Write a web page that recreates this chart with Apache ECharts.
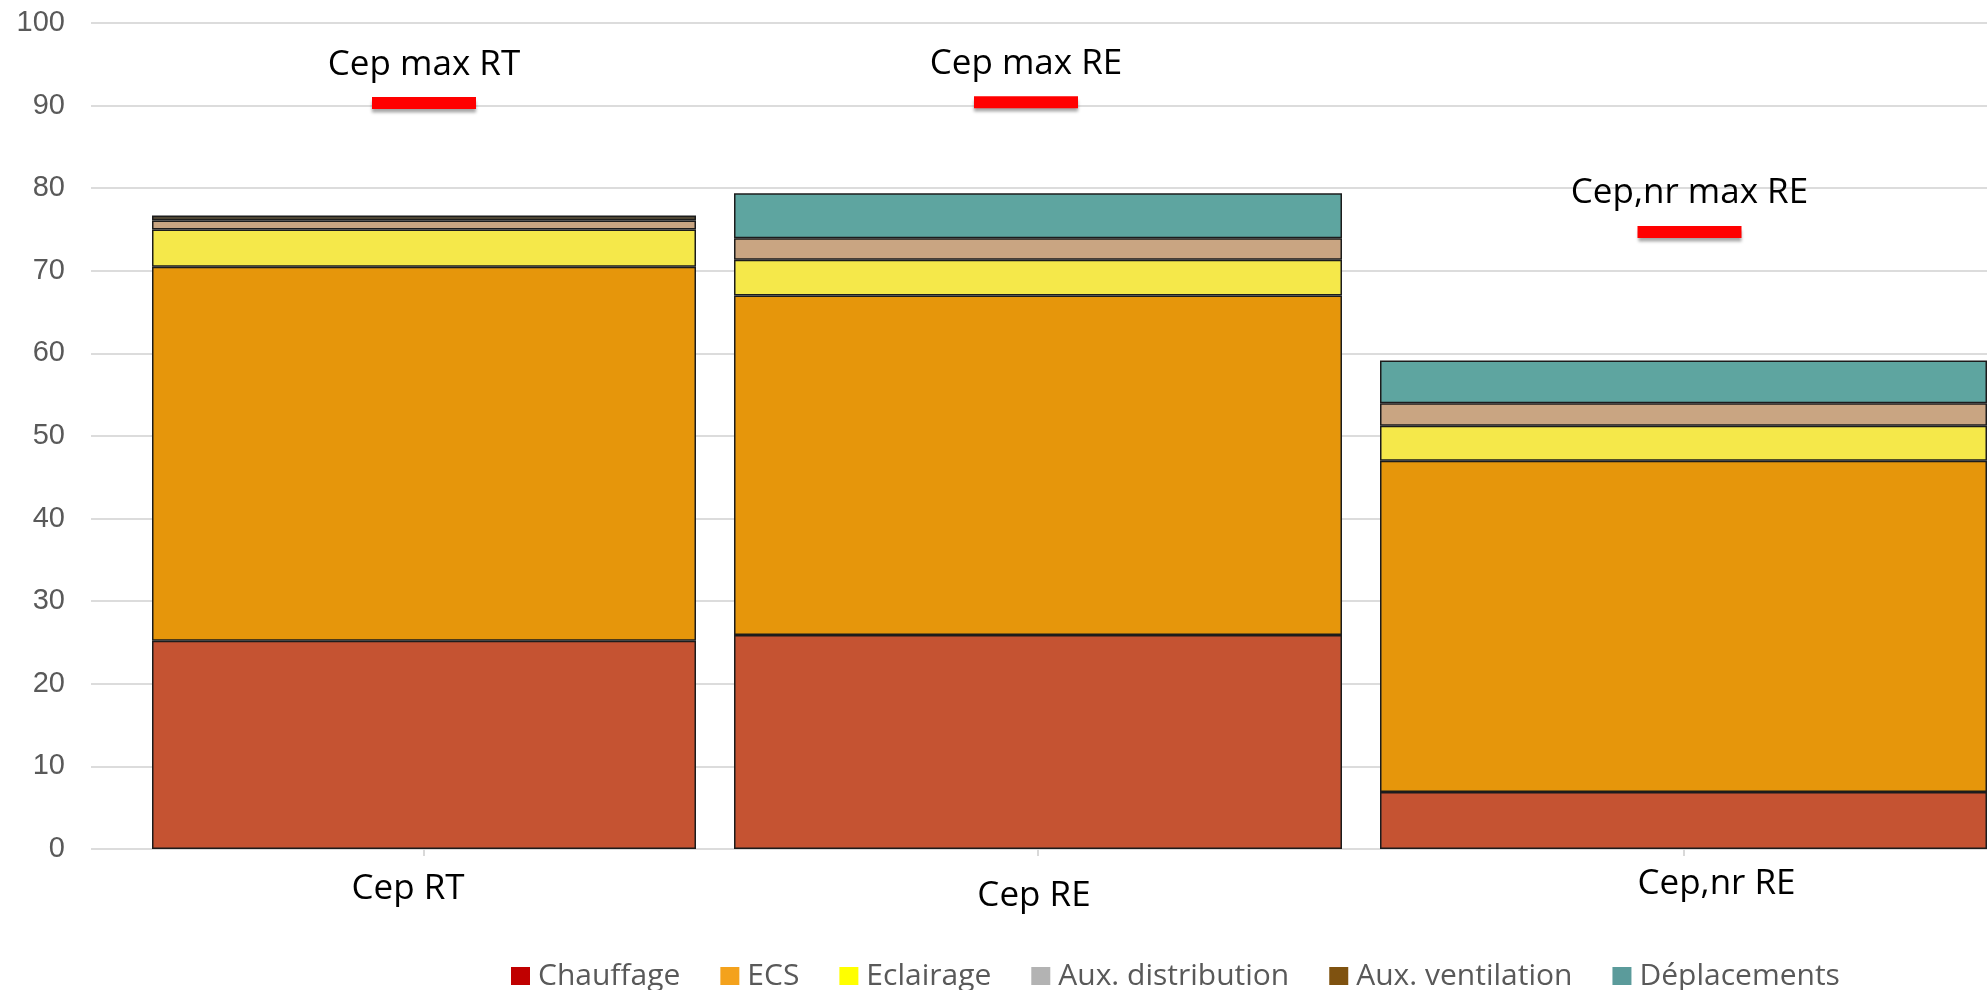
<!DOCTYPE html>
<html>
<head>
<meta charset="utf-8">
<title>Cep</title>
<script src="https://cdn.jsdelivr.net/npm/echarts@6/dist/echarts.min.js"></script>
<style>
  html, body { margin: 0; padding: 0; background: #ffffff; }
  #chart { width: 1987px; height: 990px; }
</style>
</head>
<body>
<div id="chart"></div>
<script>
// Categories and stacked consumption components
const categories = ['Cep RT', 'Cep RE', 'Cep,nr RE'];
const chauffage = [25.2, 25.9, 6.9];
const ecs = [45.3, 41.1, 40.1];
const eclairage = [4.5, 4.35, 4.25];
const auxDistribution = [1.1, 2.6, 2.7];
const auxVentilation = [0.6, 0, 0];
const deplacements = [0, 5.45, 5.2];

// Regulatory maxima shown as red markers above each bar
const maxLabels = ['Cep max RT', 'Cep max RE', 'Cep,nr max RE'];
const maxValues = [90.3, 90.4, 74.7];

// Value axis
const yMin = 0;
const yMax = 100;
const yInterval = 10;

const componentNames = ['Chauffage', 'ECS', 'Eclairage', 'Aux. distribution', 'Aux. ventilation', 'Déplacements'];
const componentValues = [chauffage, ecs, eclairage, auxDistribution, auxVentilation, deplacements];
const barColors = ['#c55332', '#e6960b', '#f5e84a', '#c9a582', '#4f4634', '#5ea5a0'];
const legendColors = ['#c00000', '#f4a21c', '#ffff00', '#b3b3b3', '#7f5210', '#5b9b9b'];

// Plot frame shared by all panels
const TOP = 23, BOTTOM = 141;
// Horizontal placement of each bar panel
const panels = [
  { left: 152, width: 544, labelMargin: 23, labelPad: [0, 32, 0, 0], markerOffset: [0, 0] },
  { left: 734, width: 608, labelMargin: 30, labelPad: [0, 8, 0, 0], markerOffset: [-12, 0] },
  { left: 1380, width: 607, labelMargin: 18, labelPad: [0, 0, 0, 66], markerOffset: [6, 0] }
];

const grids = [{ left: 91, right: 0, top: TOP, bottom: BOTTOM }];
const xAxes = [{ gridIndex: 0, type: 'category', data: [''], show: false }];
const yAxes = [{
  gridIndex: 0, type: 'value', min: yMin, max: yMax, interval: yInterval,
  axisLine: { show: false }, axisTick: { show: false },
  axisLabel: { margin: 26, fontSize: 29, color: '#595959', fontFamily: 'Liberation Sans' },
  splitLine: { show: true, lineStyle: { color: '#dcdcdc', width: 2 } }
}];

panels.forEach((p, i) => {
  grids.push({ left: p.left, width: p.width, top: TOP, bottom: BOTTOM });
  xAxes.push({
    gridIndex: i + 1, type: 'category', data: [categories[i]],
    axisLine: { show: false },
    axisTick: { show: true, alignWithLabel: true, length: 7, lineStyle: { color: '#d9d9d9', width: 2 } },
    axisLabel: {
      margin: p.labelMargin, fontSize: 35, lineHeight: 35, color: '#000000',
      fontFamily: 'Open Sans', padding: p.labelPad
    }
  });
  yAxes.push({ gridIndex: i + 1, type: 'value', min: yMin, max: yMax, interval: yInterval, show: false, splitLine: { show: false } });
});

const series = [];
componentNames.forEach((name, c) => {
  panels.forEach((p, i) => {
    const v = componentValues[c][i];
    series.push({
      name: name,
      type: 'bar',
      stack: 'panel' + i,
      xAxisIndex: i + 1,
      yAxisIndex: i + 1,
      barWidth: '100%',
      data: [v > 0 ? v : null],
      itemStyle: { color: barColors[c], borderColor: '#1c1c1c', borderWidth: 1.5 }
    });
  });
});

panels.forEach((p, i) => {
  series.push({
    name: 'max',
    type: 'scatter',
    xAxisIndex: i + 1,
    yAxisIndex: i + 1,
    symbol: 'rect',
    symbolSize: [104, 12],
    symbolOffset: p.markerOffset,
    z: 5,
    data: [maxValues[i]],
    itemStyle: {
      color: '#ff0000', opacity: 1,
      shadowColor: 'rgba(0,0,0,0.35)', shadowBlur: 3, shadowOffsetY: 4
    },
    label: {
      show: true, position: 'top', distance: 15,
      formatter: maxLabels[i],
      fontSize: 35, lineHeight: 35, color: '#000000', fontFamily: 'Open Sans'
    }
  });
});

const chart = echarts.init(document.getElementById('chart'), null, { renderer: 'canvas' });
chart.setOption({
  animation: false,
  backgroundColor: '#ffffff',
  grid: grids,
  xAxis: xAxes,
  yAxis: yAxes,
  legend: {
    left: 506,
    top: 956,
    icon: 'rect',
    itemWidth: 19,
    itemHeight: 18,
    itemGap: 40,
    textStyle: { fontSize: 30, color: '#595959', fontFamily: 'Open Sans', padding: [0, 0, 0, 3] },
    data: componentNames.map((n, c) => ({ name: n, icon: 'rect', itemStyle: { color: legendColors[c], borderWidth: 0 } }))
  },
  series: series
});
</script>
</body>
</html>
